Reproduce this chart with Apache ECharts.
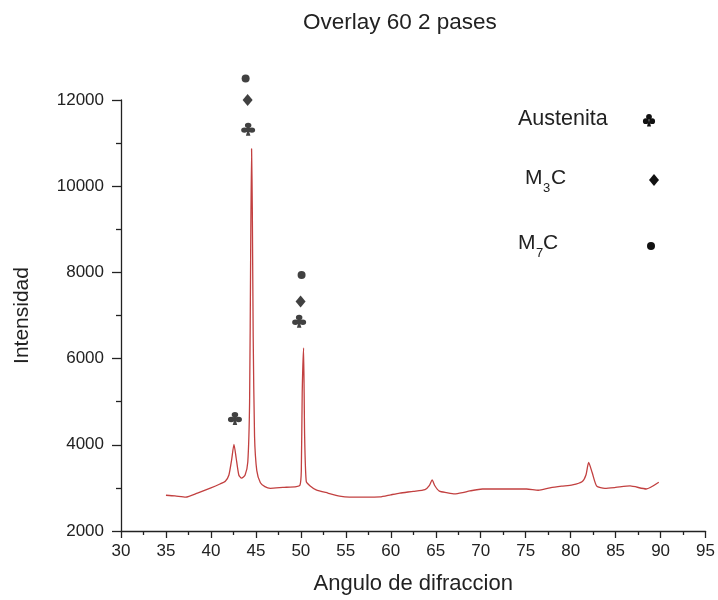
<!DOCTYPE html>
<html>
<head>
<meta charset="utf-8">
<script src="https://cdn.jsdelivr.net/npm/echarts@6/dist/echarts.min.js"></script>
<style>html,body{margin:0;padding:0;background:#fff}#c{width:718px;height:600px}</style>
</head>
<body>
<div id="c"></div>
<script>
// Diffraction pattern (angle, intensity)
const angles = [35, 36, 37.2, 38.5, 40, 41, 41.6, 42.0, 42.3, 42.56, 42.8, 43.1, 43.4, 43.8, 44.1, 44.3, 44.42, 44.52, 44.6, 44.7, 44.85, 45.1, 45.5, 46.0, 46.6, 48, 49.5, 49.9, 50.05, 50.15, 50.3, 50.42, 50.6, 51, 51.7, 53, 54.3, 55.4, 57, 58.8, 60, 61, 62.5, 63.8, 64.3, 64.6, 64.9, 65.4, 66.2, 67.1, 68, 68.8, 70.2, 72, 73.8, 75.1, 76.4, 77.7, 79, 80.2, 81.3, 81.7, 82.0, 82.4, 82.9, 83.8, 85, 86.6, 88.4, 89.8];
const intensity = [2830, 2815, 2785, 2880, 3000, 3090, 3155, 3300, 3650, 4010, 3700, 3300, 3225, 3300, 3600, 5000, 8500, 10870, 9500, 6500, 4200, 3400, 3120, 3030, 2990, 3010, 3030, 3060, 3400, 5200, 6250, 4200, 3150, 3050, 2955, 2880, 2810, 2785, 2785, 2790, 2840, 2880, 2920, 2960, 3060, 3185, 3050, 2925, 2890, 2860, 2890, 2930, 2975, 2975, 2975, 2975, 2945, 3000, 3040, 3070, 3150, 3300, 3590, 3350, 3040, 2990, 3010, 3045, 2975, 3130];

// Phase markers
const austenitaX = [44.14, 49.81, 42.67];
const austenitaY = [11323, 6865, 4609];
const m3cX = [44.08, 49.97];
const m3cY = [12000, 7327];
const m7cX = [43.86, 50.08];
const m7cY = [12500, 7942];

const xTicks = {min: 30, max: 95, interval: 5};
const yTicks = {min: 2000, max: 12000, interval: 2000};

const titleText = 'Overlay 60 2 pases';
const xName = 'Angulo de difraccion';
const yName = 'Intensidad';

// club outline: three counter-clockwise circles, a stem and a centre block (all same winding)
const CLUB = 'path://M30,22 A20,20 0 1,0 70,22 A20,20 0 1,0 30,22 Z M7,58 A20,20 0 1,0 47,58 A20,20 0 1,0 7,58 Z M53,58 A20,20 0 1,0 93,58 A20,20 0 1,0 53,58 Z M50,45 L36,100 L64,100 Z M40,30 L40,62 L60,62 L60,30 Z';

const zip = (a, b) => a.map((v, i) => [v, b[i]]);
const FONT = '"Liberation Sans", Arial, sans-serif';

// legend club glyph built from simple shapes
function clubGroup(cx, cy) {
  return {
    type: 'group', x: cx, y: cy,
    children: [
      {type: 'circle', shape: {cx: 0, cy: -3.2, r: 2.9}, style: {fill: '#111'}},
      {type: 'circle', shape: {cx: -3.2, cy: 1.2, r: 2.9}, style: {fill: '#111'}},
      {type: 'circle', shape: {cx: 3.2, cy: 1.2, r: 2.9}, style: {fill: '#111'}},
      {type: 'polygon', shape: {points: [[0, -1], [-2, 6.5], [2, 6.5]]}, style: {fill: '#111'}}
    ]
  };
}

const chart = echarts.init(document.getElementById('c'), null, {renderer: 'canvas'});
chart.setOption({
  backgroundColor: '#fff',
  animation: false,
  title: {
    text: titleText, left: 298, top: 6,
    textStyle: {fontFamily: FONT, fontSize: 22.5, fontWeight: 'normal', color: '#222'}
  },
  grid: {left: 121, right: 12, top: 100, bottom: 67},
  xAxis: {
    type: 'value', min: xTicks.min, max: xTicks.max, interval: xTicks.interval,
    name: xName, nameLocation: 'middle', nameGap: 42,
    nameTextStyle: {fontFamily: FONT, fontSize: 22, color: '#222'},
    axisLine: {show: true, lineStyle: {color: '#222', width: 1.3}},
    axisTick: {show: true, length: 7, lineStyle: {color: '#222', width: 1.3}},
    minorTick: {show: true, splitNumber: 2, length: 4, lineStyle: {color: '#222', width: 1.3}},
    axisLabel: {fontFamily: FONT, fontSize: 17, color: '#222', margin: 12},
    splitLine: {show: false}
  },
  yAxis: {
    type: 'value', min: yTicks.min, max: yTicks.max, interval: yTicks.interval,
    name: yName, nameLocation: 'middle', nameGap: 88, nameRotate: 90,
    nameTextStyle: {fontFamily: FONT, fontSize: 21, color: '#222'},
    axisLine: {show: true, lineStyle: {color: '#222', width: 1.3}},
    axisTick: {show: true, length: 9, lineStyle: {color: '#222', width: 1.3}},
    minorTick: {show: true, splitNumber: 2, length: 5, lineStyle: {color: '#222', width: 1.3}},
    axisLabel: {fontFamily: FONT, fontSize: 17, color: '#222', margin: 17, formatter: v => String(v)},
    splitLine: {show: false}
  },
  series: [
    {
      type: 'line', data: zip(angles, intensity), showSymbol: false, smooth: 0.2,
      lineStyle: {color: '#c24040', width: 1.3}, z: 2
    },
    {
      type: 'scatter', data: zip(austenitaX, austenitaY), symbol: CLUB, symbolSize: [14, 13],
      itemStyle: {color: '#111'}, clip: false, z: 3
    },
    {
      type: 'scatter', data: zip(m3cX, m3cY), symbol: 'diamond', symbolSize: [10, 12],
      itemStyle: {color: '#111'}, clip: false, z: 3
    },
    {
      type: 'scatter', data: zip(m7cX, m7cY), symbol: 'circle', symbolSize: 8,
      itemStyle: {color: '#111'}, clip: false, z: 3
    }
  ],
  graphic: [
    {type: 'text', x: 518, y: 108, style: {text: 'Austenita', font: '21.5px ' + FONT, fill: '#222'}},
    clubGroup(649, 120),
    {type: 'text', x: 525, y: 168, style: {text: 'M', font: '21px ' + FONT, fill: '#222'}},
    {type: 'text', x: 543, y: 182, style: {text: '3', font: '13px ' + FONT, fill: '#222'}},
    {type: 'text', x: 551, y: 168, style: {text: 'C', font: '21px ' + FONT, fill: '#222'}},
    {type: 'polygon', shape: {points: [[654, 174], [659, 180], [654, 186], [649, 180]]}, style: {fill: '#111'}},
    {type: 'text', x: 518, y: 233, style: {text: 'M', font: '21px ' + FONT, fill: '#222'}},
    {type: 'text', x: 536, y: 247, style: {text: '7', font: '13px ' + FONT, fill: '#222'}},
    {type: 'text', x: 543, y: 233, style: {text: 'C', font: '21px ' + FONT, fill: '#222'}},
    {type: 'circle', shape: {cx: 651, cy: 246, r: 4}, style: {fill: '#111'}}
  ]
});
</script>
</body>
</html>
